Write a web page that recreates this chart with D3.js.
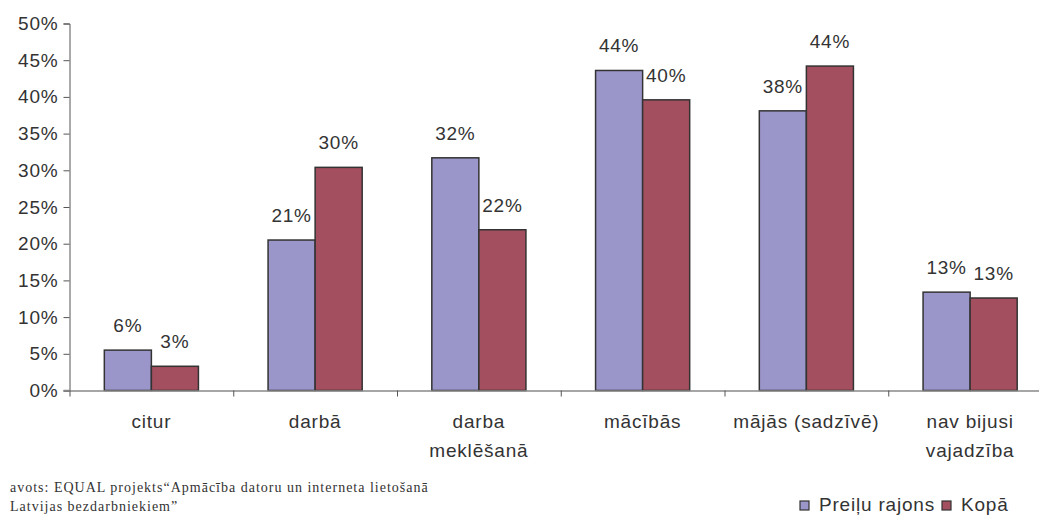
<!DOCTYPE html>
<html>
<head>
<meta charset="utf-8">
<script src="https://cdn.jsdelivr.net/npm/d3@7"></script>
<style>
  body { margin: 0; background: #fff; }
  svg { display: block; }
  text { font-family: "Liberation Sans", Arial, sans-serif; fill: #333; }
</style>
</head>
<body>
<div id="chart"></div>
<script>
const categories = ['citur', 'darbā', 'darba\nmeklēšanā', 'mācībās', 'mājās (sadzīvē)', 'nav bijusi\nvajadzība'];
const seriesNames = ['Preiļu rajons', 'Kopā'];
const preili = [5.5, 20.5, 31.7, 43.6, 38.1, 13.4];
const kopa = [3.3, 30.4, 21.9, 39.6, 44.2, 12.6];
const valueLabels = [
    ['6%', '21%', '32%', '44%', '38%', '13%'],
    ['3%', '30%', '22%', '40%', '44%', '13%'],
];
const yTicks = [0, 5, 10, 15, 20, 25, 30, 35, 40, 45, 50];
const sourceLines = [
    'avots: EQUAL projekts“Apmācība datoru un interneta lietošanā',
    'Latvijas bezdarbniekiem”',
];

const width = 1039;
const height = 515;
const margin = { top: 23.5, left: 69.5, bottom: 390.5, right: 1052 };
const colors = ['#9b96c9', '#a34f5f'];
const fontSize = '19px';
const spacing = '0.8px';

const svg = d3
    .select('#chart')
    .append('svg')
    .attr('width', width)
    .attr('height', height);

const x0 = d3
    .scaleBand()
    .domain(categories)
    .range([margin.left, margin.right])
    .padding(0);

const x1 = d3
    .scaleBand()
    .domain(seriesNames)
    .range([0, x0.bandwidth()])
    .paddingInner(0)
    .paddingOuter(0.74);

const xEdges = d3
    .scaleLinear()
    .domain([0, categories.length])
    .range([margin.left, margin.right]);

const y = d3.scaleLinear().domain([0, 50]).range([margin.bottom, margin.top]);

// y axis
const yAxis = svg
    .append('g')
    .attr('transform', `translate(${margin.left},0)`)
    .call(
        d3
            .axisLeft(y)
            .tickValues(yTicks)
            .tickSize(6)
            .tickPadding(5)
            .tickFormat((d) => d + '%')
    );
yAxis.select('.domain').attr('stroke', '#555');
yAxis.selectAll('.tick line').attr('stroke', '#555');
yAxis
    .selectAll('.tick text')
    .style('font-size', fontSize)
    .style('letter-spacing', spacing)
    .attr('fill', '#333');

// bars
const data = categories.map((c, i) => ({
    cat: c,
    values: [
        { s: seriesNames[0], v: preili[i], label: valueLabels[0][i] },
        { s: seriesNames[1], v: kopa[i], label: valueLabels[1][i] },
    ],
}));

const groups = svg
    .append('g')
    .selectAll('g')
    .data(data)
    .join('g')
    .attr('transform', (d) => `translate(${x0(d.cat)},0)`);

groups
    .selectAll('rect')
    .data((d) => d.values)
    .join('rect')
    .attr('x', (d) => x1(d.s))
    .attr('y', (d) => y(d.v))
    .attr('width', x1.bandwidth())
    .attr('height', (d) => y(0) - y(d.v))
    .attr('fill', (d, i) => colors[i])
    .attr('stroke', '#333')
    .attr('stroke-width', 1.5);

groups
    .selectAll('text')
    .data((d) => d.values)
    .join('text')
    .attr('x', (d) => x1(d.s) + x1.bandwidth() / 2)
    .attr('y', (d) => y(d.v) - 18)
    .attr('text-anchor', 'middle')
    .style('font-size', fontSize)
    .style('letter-spacing', spacing)
    .text((d) => d.label);

// x axis: line + boundary ticks
const xAxis = svg
    .append('g')
    .attr('transform', `translate(0,${margin.bottom})`)
    .call(
        d3
            .axisBottom(xEdges)
            .tickValues(d3.range(categories.length + 1))
            .tickSize(6)
            .tickSizeOuter(0)
            .tickFormat('')
    );
xAxis.select('.domain').attr('stroke', '#888').attr('stroke-width', 1.5);
xAxis.selectAll('.tick line').attr('stroke', '#555');
svg.append('line')
    .attr('x1', margin.left - 6)
    .attr('x2', margin.left)
    .attr('y1', margin.bottom)
    .attr('y2', margin.bottom)
    .attr('stroke', '#888')
    .attr('stroke-width', 1.5);

// category labels
const catLabels = svg
    .append('g')
    .selectAll('text')
    .data(categories)
    .join('text')
    .attr('x', (d) => x0(d) + x0.bandwidth() / 2)
    .attr('y', 428)
    .attr('text-anchor', 'middle')
    .style('font-size', fontSize)
    .style('letter-spacing', spacing);
catLabels
    .selectAll('tspan')
    .data((d) => d.split('\n'))
    .join('tspan')
    .attr('x', function () {
        return this.parentNode.getAttribute('x');
    })
    .attr('dy', (d, i) => (i === 0 ? 0 : 29))
    .text((d) => d);

// source note
svg.append('g')
    .selectAll('text')
    .data(sourceLines)
    .join('text')
    .attr('x', 10)
    .attr('y', (d, i) => 492 + i * 19)
    .style('font-family', '"Liberation Serif", "Times New Roman", serif')
    .style('font-size', '14px')
    .style('letter-spacing', '1px')
    .text((d) => d);

// legend
const legend = svg.append('g').attr('transform', 'translate(800,511)');
const legendX = [0, 142];
const legendItems = legend
    .selectAll('g')
    .data(seriesNames)
    .join('g')
    .attr('transform', (d, i) => `translate(${legendX[i]},0)`);
legendItems
    .append('rect')
    .attr('x', 0)
    .attr('y', -10)
    .attr('width', 9)
    .attr('height', 9)
    .attr('fill', (d, i) => colors[i])
    .attr('stroke', '#333')
    .attr('stroke-width', 1.2);
legendItems
    .append('text')
    .attr('x', 19)
    .attr('y', 0)
    .style('font-size', fontSize)
    .style('letter-spacing', spacing)
    .text((d) => d);
</script>
</body>
</html>
